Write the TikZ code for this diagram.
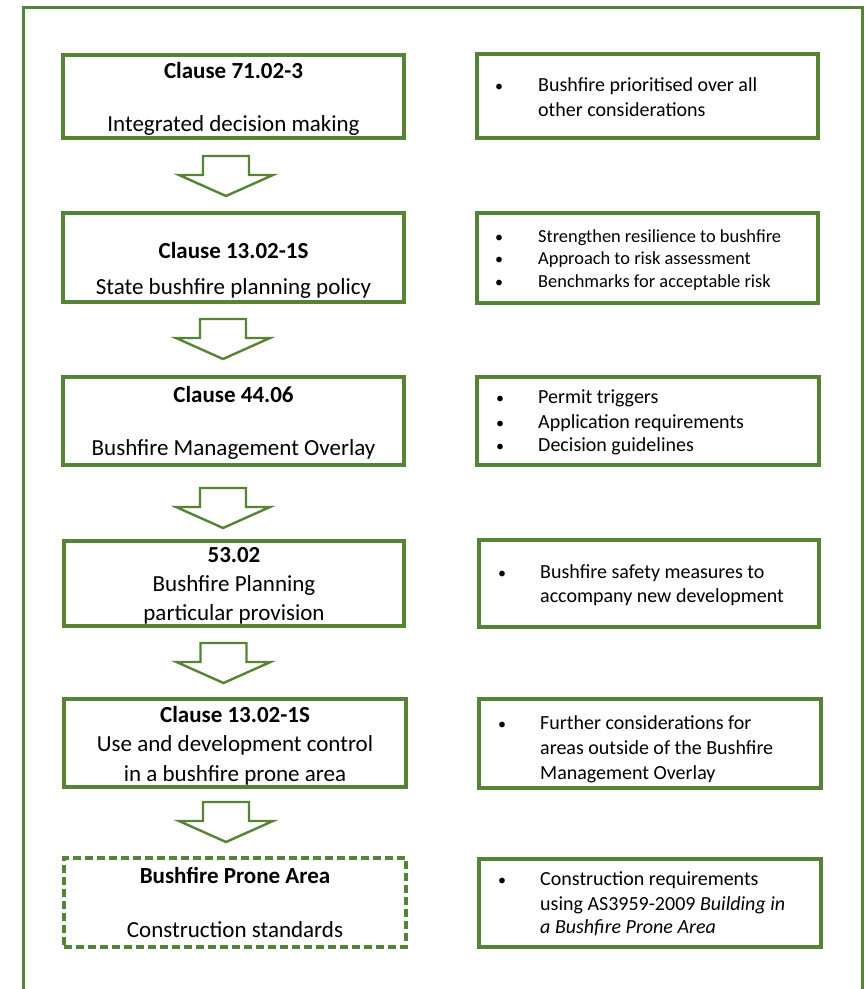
\documentclass[tikz,border=0pt]{standalone}
\usepackage{fontspec}
\setmainfont{Carlito}
\definecolor{grn}{RGB}{86,132,54}
\tikzset{
  lbox/.style={draw=grn, line width=3.2pt, minimum width=341pt, inner sep=0pt},
  dbox/.style={lbox, dash pattern=on 8pt off 4pt, line width=3.2pt},
  rbox/.style={draw=grn, line width=3.2pt, inner sep=0pt},
  ltitle/.style={anchor=base, inner sep=0pt, font=\fontsize{23}{28}\selectfont\bfseries},
  ltext/.style={anchor=base, inner sep=0pt, font=\fontsize{23}{28}\selectfont},
  rtext/.style={anchor=base west, inner sep=0pt, font=\fontsize{20}{24}\selectfont},
  rsmall/.style={anchor=base west, inner sep=0pt, font=\fontsize{18.4}{22}\selectfont},
  bul/.style={anchor=base, inner sep=0pt, font=\fontsize{16}{20}\selectfont},
  arr/.style={draw=grn, line width=2.4pt, line join=miter, fill=white},
}
\newcommand\blkarrow[2]{%
  \draw[arr] (#1-23,#2) -- (#1+23,#2) -- (#1+23,#2+19) -- (#1+47,#2+19)
    -- (#1,#2+40) -- (#1-47,#2+19) -- (#1-23,#2+19) -- cycle;}
\begin{document}
\begin{tikzpicture}[x=1pt,y=-1pt]
\useasboundingbox (0,0) rectangle (865,989);
\begin{scope}
\clip (0,0) rectangle (865,989);
\draw[draw=grn, line width=3pt] (23,7) rectangle (862,1010);
\end{scope}

% left boxes
\node[lbox, minimum height=83pt] (b1) at (233.5,96.5) {};
\node[ltitle] (b1t) at (233.5,78) {Clause 71.02-3};
\node[ltext] (b1b) at (233.5,131) {Integrated decision making};

\node[lbox, minimum height=89pt] (b2) at (233.5,257.5) {};
\node[ltitle] (b2t) at (233.5,258) {Clause 13.02-1S};
\node[ltext] (b2b) at (233.5,294) {State bushfire planning policy};

\node[lbox, minimum height=88pt] (b3) at (233.5,421) {};
\node[ltitle] (b3t) at (233.5,402) {Clause 44.06};
\node[ltext] (b3b) at (233.5,455) {Bushfire Management Overlay};

\node[lbox, minimum height=85pt, minimum width=340pt] (b4) at (234,583.5) {};
\node[ltitle] (b4t) at (234,562) {53.02};
\node[ltext] (b4b) at (234,591) {Bushfire Planning};
\node[ltext] (b4c) at (234,620) {particular provision};

\node[lbox, minimum height=88pt, minimum width=342pt] (b5) at (235,743) {};
\node[ltitle] (b5t) at (235,722) {Clause 13.02-1S};
\node[ltext] (b5b) at (235,751) {Use and development control};
\node[ltext] (b5c) at (235,781) {in a bushfire prone area};

\node[dbox, minimum height=89pt, minimum width=342pt] (b6) at (235,902.5) {};
\node[ltitle] (b6t) at (235,883) {Bushfire Prone Area};
\node[ltext] (b6b) at (235,937) {Construction standards};

% arrows
\blkarrow{226}{156}
\blkarrow{223}{319}
\blkarrow{223}{488}
\blkarrow{223.5}{643}
\blkarrow{226}{802}

% right boxes
\node[rbox, minimum width=341pt, minimum height=84pt] (r1) at (647.5,96) {};
\node[bul] (r1d) at (499,91) {•};
\node[rtext] (r1a) at (538,91) {Bushfire prioritised over all};
\node[rtext] (r1b) at (538,116) {other considerations};

\node[rbox, minimum width=341pt, minimum height=90pt] (r2) at (647.5,258) {};
\node[bul] (r2d1) at (499,242) {•};
\node[bul] (r2d2) at (499,264) {•};
\node[bul] (r2d3) at (499,287) {•};
\node[rsmall] (r2a) at (538,242) {Strengthen resilience to bushfire};
\node[rsmall] (r2b) at (538,264) {Approach to risk assessment};
\node[rsmall] (r2c) at (538,287) {Benchmarks for acceptable risk};

\node[rbox, minimum width=342pt, minimum height=88pt] (r3) at (648,421) {};
\node[bul] (r3d1) at (500,403) {•};
\node[bul] (r3d2) at (500,428) {•};
\node[bul] (r3d3) at (500,451) {•};
\node[rtext] (r3a) at (538,403) {Permit triggers};
\node[rtext] (r3b) at (538,428) {Application requirements};
\node[rtext] (r3c) at (538,451) {Decision guidelines};

\node[rbox, minimum width=340pt, minimum height=87pt] (r4) at (649,583.5) {};
\node[bul] (r4d) at (502,578) {•};
\node[rtext] (r4a) at (540,578) {Bushfire safety measures to};
\node[rtext] (r4b) at (540,602) {accompany new development};

\node[rbox, minimum width=342pt, minimum height=89pt] (r5) at (650,743.5) {};
\node[bul] (r5d) at (502,729) {•};
\node[rtext] (r5a) at (540,729) {Further considerations for};
\node[rtext] (r5b) at (540,754) {areas outside of the Bushfire};
\node[rtext] (r5c) at (540,779) {Management Overlay};

\node[rbox, minimum width=342pt, minimum height=88pt] (r6) at (650,903) {};
\node[bul] (r6d) at (502,885) {•};
\node[rtext] (r6a) at (540,885) {Construction requirements};
\node[rtext] (r6b) at (540,910) {using AS3959-2009 \textit{Building in}};
\node[rtext] (r6c) at (540,933) {\textit{a Bushfire Prone Area}};
\end{tikzpicture}
\end{document}
